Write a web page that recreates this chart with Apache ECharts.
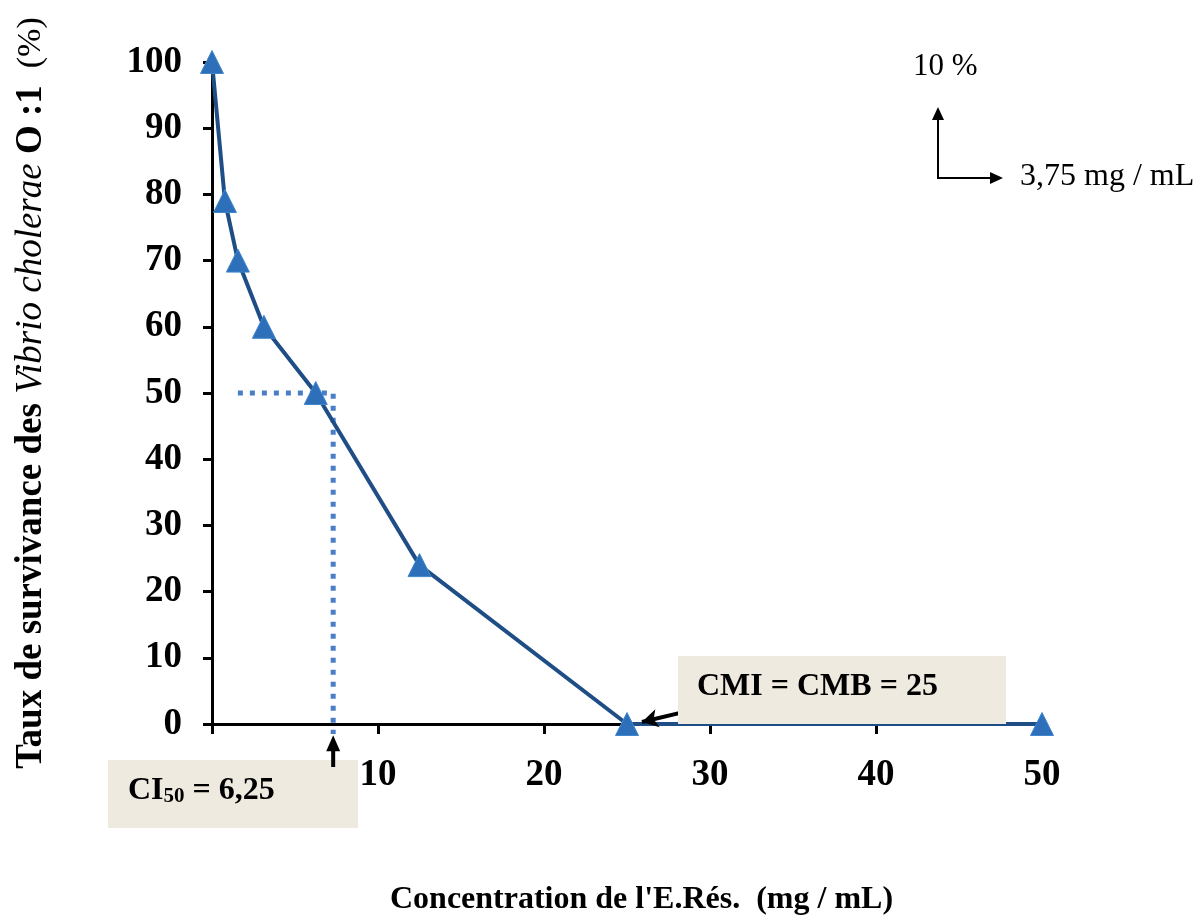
<!DOCTYPE html>
<html><head><meta charset="utf-8">
<script src="https://cdn.jsdelivr.net/npm/echarts@6/dist/echarts.min.js"></script>
<style>html,body{margin:0;padding:0;background:#fff}#c{width:1204px;height:921px}</style>
</head><body><div id="c"></div>
<script>
// Data
var concentrations = [0, 0.78, 1.56, 3.125, 6.25, 12.5, 25, 50];
var survival = [100, 79, 70, 60, 50, 24, 0, 0];
var xTicks = [0, 10, 20, 30, 40, 50];
var yTicks = [0, 10, 20, 30, 40, 50, 60, 70, 80, 90, 100];
var ci50Guide = [[1.56, 50], [7.3, 50], [7.3, -1.5]];
var ci50Arrow = [[7.3, -6.5], [7.3, -2.9]];
var cmiArrow = [[28.9, 2.1], [25.9, 0.3]];

var FONT = 'Liberation Serif';
var chart = echarts.init(document.getElementById('c'));
var pts = concentrations.map(function (c, i) { return [c, survival[i]]; });

chart.setOption({
  animation: false,
  grid: { left: 212, right: 162, top: 62, bottom: 194 },
  xAxis: {
    type: 'value', min: xTicks[0], max: xTicks[xTicks.length - 1], interval: 10,
    splitLine: { show: false },
    axisLine: { lineStyle: { color: '#000', width: 3 } },
    axisTick: { show: true, length: 10, lineStyle: { color: '#000', width: 3 } },
    axisLabel: { margin: 33, fontFamily: FONT, fontWeight: 'bold', fontSize: 37, color: '#000' },
    name: "Concentration de l'E.Rés.  (mg / mL)",
    nameLocation: 'middle', nameGap: 160,
    nameTextStyle: { fontFamily: FONT, fontWeight: 'bold', fontSize: 32, color: '#000', padding: [0, 0, 0, 29] }
  },
  yAxis: {
    type: 'value', min: yTicks[0], max: yTicks[yTicks.length - 1], interval: 10,
    splitLine: { show: false },
    axisLine: { lineStyle: { color: '#000', width: 3 } },
    axisTick: { show: true, length: 9, lineStyle: { color: '#000', width: 3 } },
    axisLabel: { margin: 30, fontFamily: FONT, fontWeight: 'bold', fontSize: 37, color: '#000' },
    name: '{b|Taux de survivance des }{i|Vibrio cholerae}{b| O :1}{n|  (%)}',
    nameLocation: 'middle', nameGap: 162, nameRotate: 90,
    nameTextStyle: {
      rich: {
        b: { fontFamily: FONT, fontWeight: 'bold', fontSize: 37, color: '#000' },
        i: { fontFamily: FONT, fontStyle: 'italic', fontSize: 37, color: '#000' },
        n: { fontFamily: FONT, fontSize: 34, color: '#000' }
      }
    }
  },
  series: [
    {
      type: 'line', data: ci50Guide, symbol: 'none', clip: false, z: 1,
      lineStyle: { color: '#4A7EC6', width: 5, type: [5, 7] }
    },
    {
      type: 'line', clip: false, z: 200, silent: true,
      data: [
        { value: ci50Arrow[0], symbol: 'none' },
        { value: ci50Arrow[1], symbol: 'triangle', symbolSize: [14, 16], itemStyle: { color: '#000', borderWidth: 0 } }
      ],
      lineStyle: { color: '#000', width: 4 }
    },
    {
      type: 'line', data: pts, symbol: 'triangle', symbolSize: 23, z: 3, clip: false,
      lineStyle: { color: '#1F4E87', width: 4 },
      itemStyle: { color: '#2E6FBA', borderColor: '#3F86CC', borderWidth: 1 },
      markLine: {
        silent: true, symbol: ['none', 'arrow'], symbolSize: [14, 16],
        label: { show: false },
        lineStyle: { color: '#000', width: 4, type: 'solid' },
        data: [
          [{ coord: cmiArrow[0] }, { coord: cmiArrow[1] }]
        ]
      }
    }
  ],
  graphic: [
    { type: 'rect', z: 100, shape: { x: 108, y: 760, width: 250, height: 68 }, style: { fill: '#EEEAE0' } },
    { type: 'text', z: 101, left: 128, top: 775, style: {
        text: '{b|CI}{s|50}{b| = 6,25}',
        rich: {
          b: { fontFamily: FONT, fontWeight: 'bold', fontSize: 32, fill: '#000', verticalAlign: 'bottom' },
          s: { fontFamily: FONT, fontWeight: 'bold', fontSize: 21, fill: '#000', padding: [10, 0, 0, 0], verticalAlign: 'bottom' }
        } } },
    { type: 'rect', z: 100, shape: { x: 678, y: 656, width: 328, height: 68 }, style: { fill: '#EEEAE0' } },
    { type: 'text', z: 101, left: 697, top: 671, style: {
        text: 'CMI = CMB = 25', font: 'bold 32px "Liberation Serif"', fill: '#000' } },
    { type: 'text', z: 101, left: 913, top: 51, style: { text: '10 %', font: '31px "Liberation Serif"', fill: '#000' } },
    { type: 'text', z: 101, left: 1020, top: 161, style: { text: '3,75 mg / mL', font: '32px "Liberation Serif"', fill: '#000' } },
    { type: 'line', z: 101, shape: { x1: 938, y1: 178, x2: 938, y2: 118 }, style: { stroke: '#000', lineWidth: 2 } },
    { type: 'polygon', z: 101, shape: { points: [[932, 120], [944, 120], [938, 107]] }, style: { fill: '#000' } },
    { type: 'line', z: 101, shape: { x1: 937, y1: 178, x2: 992, y2: 178 }, style: { stroke: '#000', lineWidth: 2 } },
    { type: 'polygon', z: 101, shape: { points: [[990, 172], [990, 184], [1003, 178]] }, style: { fill: '#000' } }
  ]
});
</script>
</body></html>
